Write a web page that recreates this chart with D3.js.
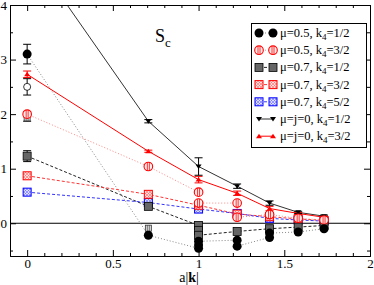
<!DOCTYPE html>
<html lang="en">
<head>
<meta charset="utf-8">
<title>S_c vs a|k|</title>
<script src="https://d3js.org/d3.v7.min.js"></script>
<style>
  body { margin: 0; background: #fff; }
  svg text { font-family: "Liberation Serif", "DejaVu Serif", serif; }
</style>
</head>
<body>
<div id="chart"></div>
<script>
// tick labels
var xTicks = [0, 0.5, 1, 1.5, 2];
var yTicks = [0, 1, 2, 3, 4];

// mu=0.5, k4=1/2
var xA = [0, 0.707, 1, 1, 1, 1.225, 1.225, 1.414, 1.414, 1.581, 1.732];
var yA = [3.10, -0.22, -0.46, -0.40, -0.33, -0.31, -0.42, -0.26, -0.18, -0.16, -0.10];
var eA = [0.18, 0, 0, 0, 0, 0, 0, 0, 0, 0, 0];
// mu=0.5, k4=3/2
var xB = [0, 0.707, 1, 1, 1.225, 1.225, 1.414, 1.581, 1.732];
var yB = [2.00, 1.04, 0.57, 0.37, 0.37, 0.11, 0.16, 0.09, 0.06];
var eB = [0.05, 0, 0, 0, 0, 0, 0, 0, 0];
// mu=0.7, k4=1/2
var xC = [0, 0.707, 1, 1, 1, 1.225, 1.414, 1.581, 1.732];
var yC = [1.23, 0.31, -0.04, -0.13, -0.22, -0.15, -0.10, -0.07, -0.04];
var eC = [0.10, 0, 0, 0, 0, 0, 0, 0, 0];
// mu=0.7, k4=3/2
var xD = [0, 0.707, 1, 1.225, 1.414, 1.581, 1.732];
var yD = [0.87, 0.53, 0.33, 0.17, 0.12, 0.08, 0.05];
var eD = [0.03, 0, 0, 0, 0, 0, 0];
// mu=0.7, k4=5/2
var xE = [0, 0.707, 1, 1.225, 1.414, 1.581, 1.732];
var yE = [0.57, 0.38, 0.26, 0.18, 0.09, 0.06, 0.04];
var eE = [0, 0, 0, 0, 0, 0, 0];
// mu=j=0, k4=1/2
var xF = [0, 0.707, 1, 1.225, 1.414, 1.581, 1.732];
var yF = [5.05, 1.87, 1.04, 0.68, 0.37, 0.20, 0.13];
var eF = [0, 0.03, 0.16, 0.04, 0.04, 0.02, 0.02];
// mu=j=0, k4=3/2
var xG = [0, 0.707, 1, 1.225, 1.414, 1.581, 1.732];
var yG = [2.73, 1.32, 0.80, 0.55, 0.27, 0.18, 0.11];
var eG = [0.06, 0.02, 0.06, 0.04, 0.04, 0.02, 0.02];
// extra points without legend entry
var xX = [0, 0, 0.707];
var yX = [2.50, 1.93, -0.09];
var eX = [0.15, 0.06, 0];

var series = [
  { name: "\u03bc=0.5, k", sub: "4", rest: "=1/2", x: xA, y: yA, e: eA, mark: "dot",    color: "#000", line: "#888", dash: "1,2" },
  { name: "\u03bc=0.5, k", sub: "4", rest: "=3/2", x: xB, y: yB, e: eB, mark: "phi",    color: "#f00", line: "#f88", dash: "1,2" },
  { name: "\u03bc=0.7, k", sub: "4", rest: "=1/2", x: xC, y: yC, e: eC, mark: "sqDark", color: "#000", line: "#222", dash: "3,2" },
  { name: "\u03bc=0.7, k", sub: "4", rest: "=3/2", x: xD, y: yD, e: eD, mark: "sqRed",  color: "#f00", line: "#f33", dash: "3,2" },
  { name: "\u03bc=0.7, k", sub: "4", rest: "=5/2", x: xE, y: yE, e: eE, mark: "sqBlue", color: "#00f", line: "#33f", dash: "3,2" },
  { name: "\u03bc=j=0, k", sub: "4", rest: "=1/2", x: xF, y: yF, e: eF, mark: "triDown", color: "#000", line: "#333", dash: null },
  { name: "\u03bc=j=0, k", sub: "4", rest: "=3/2", x: xG, y: yG, e: eG, mark: "triUp",  color: "#f00", line: "#f00", dash: null }
];

var W = 374, H = 285;
var pLeft = 10, pRight = 370, pTop = 5, pBottom = 256;

var x = d3.scaleLinear().domain([-0.1, 2]).range([pLeft, pRight]);
var y = d3.scaleLinear().domain([-0.6, 4]).range([pBottom, pTop]);

var svg = d3.select("#chart").append("svg")
  .attr("width", W).attr("height", H);

var defs = svg.append("defs");
defs.append("clipPath").attr("id", "plotclip")
  .append("rect").attr("x", pLeft).attr("y", pTop)
  .attr("width", pRight - pLeft).attr("height", pBottom - pTop);

function hatch(id, col, bg) {
  var p = defs.append("pattern").attr("id", id)
    .attr("patternUnits", "userSpaceOnUse").attr("width", 3).attr("height", 3);
  p.append("rect").attr("width", 3).attr("height", 3).attr("fill", bg);
  p.append("path").attr("d", "M0,0L3,3M3,0L0,3").attr("stroke", col).attr("stroke-width", 0.6);
}
hatch("hatchRed", "#f66", "#fdd");
hatch("hatchBlue", "#66f", "#ddf");

// y = 0 line
svg.append("line")
  .attr("x1", pLeft).attr("x2", pRight)
  .attr("y1", y(0)).attr("y2", y(0))
  .attr("stroke", "#000").attr("stroke-width", 1);

var plot = svg.append("g").attr("clip-path", "url(#plotclip)");

function drawMarker(g, type, cx, cy) {
  if (type === "dot") {
    g.append("circle").attr("cx", cx).attr("cy", cy).attr("r", 4.5).attr("fill", "#000");
  } else if (type === "ring") {
    g.append("circle").attr("cx", cx).attr("cy", cy).attr("r", 3.5)
      .attr("fill", "#fff").attr("stroke", "#000").attr("stroke-width", 0.8);
  } else if (type === "phi") {
    g.append("circle").attr("cx", cx).attr("cy", cy).attr("r", 4.3)
      .attr("fill", "#fee").attr("stroke", "#f00").attr("stroke-width", 1.1);
    g.append("line").attr("x1", cx - 1).attr("x2", cx - 1).attr("y1", cy - 4).attr("y2", cy + 4)
      .attr("stroke", "#f00").attr("stroke-width", 0.8);
    g.append("line").attr("x1", cx + 1).attr("x2", cx + 1).attr("y1", cy - 4).attr("y2", cy + 4)
      .attr("stroke", "#f00").attr("stroke-width", 0.8);
  } else if (type === "sqDark") {
    g.append("rect").attr("x", cx - 4).attr("y", cy - 4).attr("width", 8).attr("height", 8)
      .attr("fill", "#666").attr("stroke", "#000").attr("stroke-width", 0.8);
  } else if (type === "sqSmall") {
    g.append("rect").attr("x", cx - 3).attr("y", cy - 3).attr("width", 6).attr("height", 6)
      .attr("fill", "#ddd").attr("stroke", "#333").attr("stroke-width", 0.8);
    g.append("path").attr("d", "M" + (cx - 1) + "," + (cy - 3) + "V" + (cy + 3) + "M" + (cx + 1) + "," + (cy - 3) + "V" + (cy + 3))
      .attr("stroke", "#333").attr("stroke-width", 0.6);
  } else if (type === "sqRed") {
    g.append("rect").attr("x", cx - 4).attr("y", cy - 4).attr("width", 8).attr("height", 8)
      .attr("fill", "url(#hatchRed)").attr("stroke", "#f00").attr("stroke-width", 1);
  } else if (type === "sqBlue") {
    g.append("rect").attr("x", cx - 4).attr("y", cy - 4).attr("width", 8).attr("height", 8)
      .attr("fill", "url(#hatchBlue)").attr("stroke", "#00f").attr("stroke-width", 1);
  } else if (type === "triDown") {
    g.append("path").attr("d", "M" + (cx - 3) + "," + (cy - 2) + "L" + (cx + 3) + "," + (cy - 2) + "L" + cx + "," + (cy + 2.5) + "Z")
      .attr("fill", "#000");
  } else if (type === "triUp") {
    g.append("path").attr("d", "M" + (cx - 3) + "," + (cy + 2) + "L" + (cx + 3) + "," + (cy + 2) + "L" + cx + "," + (cy - 2.5) + "Z")
      .attr("fill", "#f00");
  }
}

function errBar(g, cx, cy, e, col) {
  if (!e) return;
  var y1 = y(cy + e), y2 = y(cy - e), px = x(cx);
  g.append("path")
    .attr("d", "M" + px + "," + y1 + "V" + y2 + "M" + (px - 4) + "," + y1 + "H" + (px + 4) + "M" + (px - 4) + "," + y2 + "H" + (px + 4))
    .attr("stroke", col).attr("stroke-width", 1).attr("fill", "none");
}

var line = d3.line().x(function(d) { return x(d[0]); }).y(function(d) { return y(d[1]); });

// lines first
series.forEach(function(s) {
  var pts = s.x.map(function(v, i) { return [v, s.y[i]]; });
  plot.append("path").datum(pts)
    .attr("d", line)
    .attr("fill", "none")
    .attr("stroke", s.line)
    .attr("stroke-width", 1)
    .attr("stroke-dasharray", s.dash);
});

// extra points
xX.forEach(function(v, i) {
  errBar(plot, v, yX[i], eX[i], "#000");
  drawMarker(plot, i === 0 ? "ring" : "sqSmall", x(v), y(yX[i]));
});

// error bars and markers (last series on top)
series.slice().reverse().forEach(function(s) {
  var g = plot.append("g");
  s.x.forEach(function(v, i) {
    errBar(g, v, s.y[i], s.e[i], s.color);
    drawMarker(g, s.mark, x(v), y(s.y[i]));
  });
});

// axes
var xMinor = d3.range(-0.1, 2.001, 0.1).filter(function(d) { return Math.abs(d * 2 - Math.round(d * 2)) > 1e-6; });
var yMinor = [-0.5, 0.5, 1.5, 2.5, 3.5];
var fmt = function(d) { return String(d); };

function styleAxis(g) {
  g.selectAll("path.domain").attr("stroke", "#000");
  g.selectAll(".tick line").attr("stroke", "#000");
  g.selectAll("text").attr("fill", "#000").style("font-family", "Liberation Serif, serif");
}

svg.append("g").attr("transform", "translate(0," + pBottom + ")")
  .call(d3.axisBottom(x).tickValues(xTicks).tickFormat(fmt).tickSizeInner(-6).tickSizeOuter(0).tickPadding(3))
  .call(styleAxis)
  .selectAll("text").attr("font-size", 13);
svg.append("g").attr("transform", "translate(0," + pBottom + ")")
  .call(d3.axisBottom(x).tickValues(xMinor).tickFormat("").tickSizeInner(-3).tickSizeOuter(0))
  .call(styleAxis);
svg.append("g").attr("transform", "translate(0," + pTop + ")")
  .call(d3.axisTop(x).tickValues(xTicks).tickFormat("").tickSizeInner(-6).tickSizeOuter(0))
  .call(styleAxis);
svg.append("g").attr("transform", "translate(0," + pTop + ")")
  .call(d3.axisTop(x).tickValues(xMinor).tickFormat("").tickSizeInner(-3).tickSizeOuter(0))
  .call(styleAxis);

svg.append("g").attr("transform", "translate(" + pLeft + ",0)")
  .call(d3.axisLeft(y).tickValues(yTicks).tickFormat(fmt).tickSizeInner(-6).tickSizeOuter(0).tickPadding(3))
  .call(styleAxis)
  .selectAll("text").attr("font-size", 13);
svg.append("g").attr("transform", "translate(" + pLeft + ",0)")
  .call(d3.axisLeft(y).tickValues(yMinor).tickFormat("").tickSizeInner(-3).tickSizeOuter(0))
  .call(styleAxis);
svg.append("g").attr("transform", "translate(" + pRight + ",0)")
  .call(d3.axisRight(y).tickValues(yTicks).tickFormat("").tickSizeInner(-6).tickSizeOuter(0))
  .call(styleAxis);
svg.append("g").attr("transform", "translate(" + pRight + ",0)")
  .call(d3.axisRight(y).tickValues(yMinor).tickFormat("").tickSizeInner(-3).tickSizeOuter(0))
  .call(styleAxis);

// title S_c
var title = svg.append("text").attr("x", 155).attr("y", 42).attr("font-size", 18);
title.append("tspan").text("S");
title.append("tspan").attr("font-size", 13).attr("dy", 5).text("c");

// x axis label a|k|
var xl = svg.append("text").attr("x", 189).attr("y", 282).attr("text-anchor", "middle").attr("font-size", 14);
xl.append("tspan").text("a|");
xl.append("tspan").attr("font-weight", "bold").text("k");
xl.append("tspan").text("|");

// legend
var lg = svg.append("g");
lg.append("rect").attr("x", 251.5).attr("y", 23.5).attr("width", 115).attr("height", 124)
  .attr("fill", "#fff").attr("stroke", "#000").attr("stroke-width", 1);
series.forEach(function(s, i) {
  var ry = 33 + i * 17.2;
  lg.append("line").attr("x1", 259).attr("x2", 273).attr("y1", ry).attr("y2", ry)
    .attr("stroke", s.line).attr("stroke-width", 1).attr("stroke-dasharray", s.dash);
  drawMarker(lg, s.mark, 259, ry);
  drawMarker(lg, s.mark, 273, ry);
  var t = lg.append("text").attr("x", 280).attr("y", ry + 4).attr("font-size", 12.5);
  t.append("tspan").text(s.name);
  t.append("tspan").attr("font-size", 9).attr("dy", 3).text(s.sub);
  t.append("tspan").attr("dy", -3).text(s.rest);
});
</script>
</body>
</html>
